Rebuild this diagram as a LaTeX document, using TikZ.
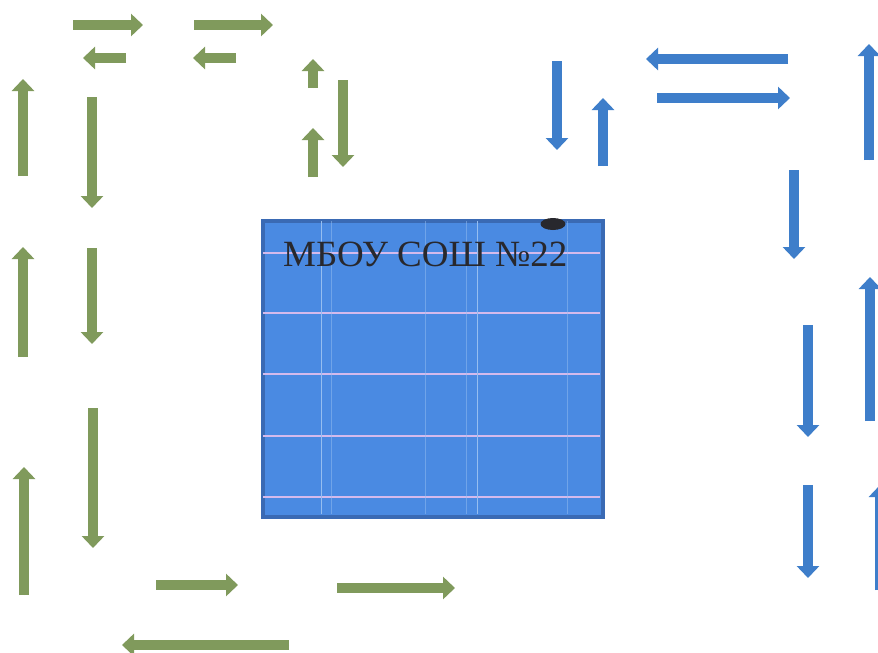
\documentclass[tikz,border=0pt]{standalone}
\usepackage{fontspec}
\setmainfont{Liberation Serif}
\usetikzlibrary{arrows.meta,shapes.geometric}
\definecolor{garrow}{RGB}{128,154,92}
\definecolor{barrow}{RGB}{62,126,202}
\definecolor{sqfill}{RGB}{74,138,226}
\definecolor{sqborder}{RGB}{58,106,180}
\definecolor{gridpink}{RGB}{212,186,236}
\definecolor{gridlight}{RGB}{150,190,240}
\definecolor{textgray}{RGB}{40,40,45}
\tikzset{
  blockarrow/.style={line width=10.5pt, line cap=butt, -{Triangle[width=22pt,length=12pt]}},
  greenarrow/.style={blockarrow, draw=garrow, fill=garrow},
  bluearrow/.style={blockarrow, draw=barrow, fill=barrow},
  hgrid/.style={draw=gridpink, line width=1.2pt},
  vgrid/.style={draw=gridlight, line width=0.8pt},
}
\begin{document}
\begin{tikzpicture}[x=1pt,y=-1pt]
\useasboundingbox (0,0) rectangle (878,653);
\clip (0,0) rectangle (878,653);
\fill[white] (0,0) rectangle (878,653);
% green arrows (left)
\draw[greenarrow] (73,25) -- (143,25);
\draw[greenarrow] (194,25) -- (273,25);
\draw[greenarrow] (126,58) -- (83,58);
\draw[greenarrow] (236,58) -- (193,58);
\draw[greenarrow] (23,176) -- (23,79);
\draw[greenarrow] (92,97) -- (92,208);
\draw[greenarrow] (313,88) -- (313,59);
\draw[greenarrow] (313,177) -- (313,128);
\draw[greenarrow] (343,80) -- (343,167);
\draw[greenarrow] (23,357) -- (23,247);
\draw[greenarrow] (92,248) -- (92,344);
\draw[greenarrow] (93,408) -- (93,548);
\draw[greenarrow] (24,595) -- (24,467);
\draw[greenarrow] (156,585) -- (238,585);
\draw[greenarrow] (337,588) -- (455,588);
\draw[greenarrow] (289,645) -- (122,645);
% blue arrows (right)
\draw[bluearrow] (557,61) -- (557,150);
\draw[bluearrow] (603,166) -- (603,98);
\draw[bluearrow] (788,59) -- (646,59);
\draw[bluearrow] (657,98) -- (790,98);
\draw[bluearrow] (869,160) -- (869,44);
\draw[bluearrow] (794,170) -- (794,259);
\draw[bluearrow] (870,421) -- (870,277);
\draw[bluearrow] (808,325) -- (808,437);
\draw[bluearrow] (808,485) -- (808,578);
\draw[bluearrow] (880,590) -- (880,485);
% central square
\node[draw=sqborder, line width=4pt, fill=sqfill, minimum width=340pt, minimum height=296pt, inner sep=0pt, anchor=north west] (sq) at (261,219) {};
\foreach \yy in {253,313,374,436,497} \draw[hgrid] (263,\yy) -- (600,\yy);
\foreach \xx in {321,477} \draw[vgrid] (\xx,221) -- (\xx,514);
\foreach \xx in {331,425,466,567} \draw[vgrid, opacity=0.5] (\xx,221) -- (\xx,514);
\node[fill=textgray, ellipse, minimum width=25pt, minimum height=12pt, inner sep=0pt] (dot) at (553,224) {};
\node[anchor=base west, inner sep=0pt, text=textgray, font=\fontsize{37}{40}\selectfont] (title) at (283,266) {МБОУ СОШ №22};
\end{tikzpicture}
\end{document}
